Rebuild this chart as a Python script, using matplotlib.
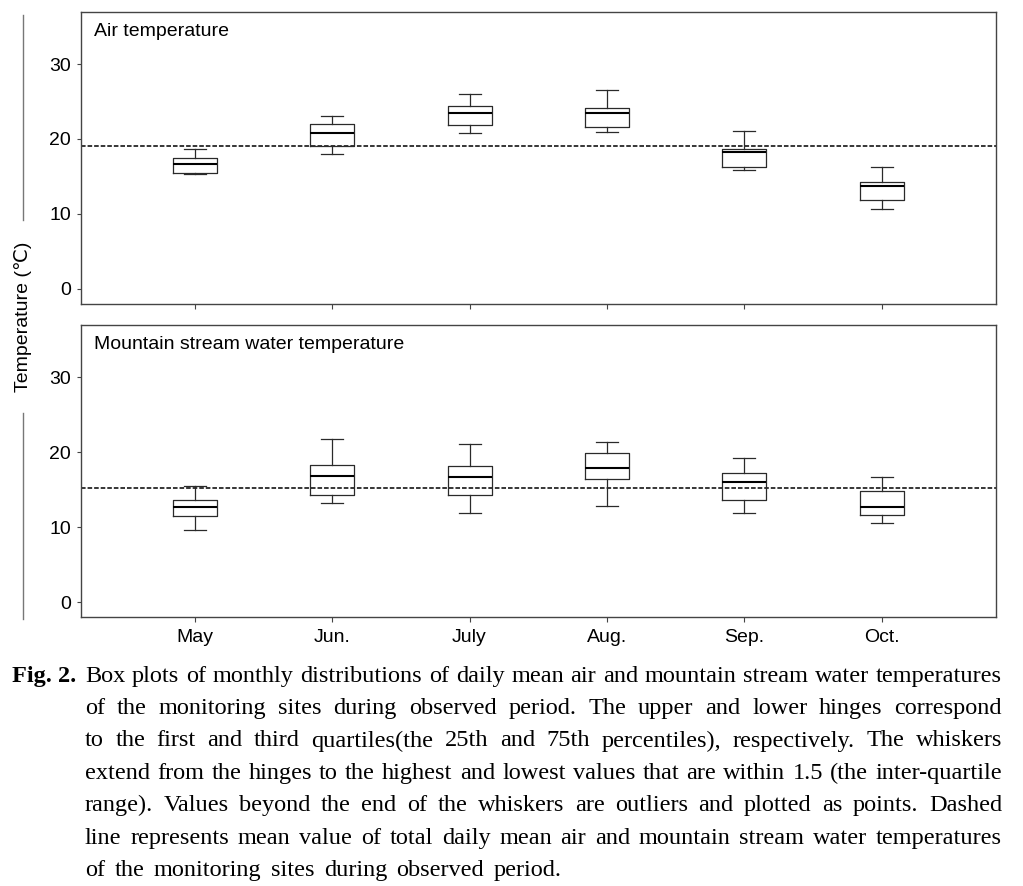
import matplotlib
matplotlib.use("Agg")
import matplotlib.pyplot as plt
from matplotlib.lines import Line2D

months = ["May", "Jun.", "July", "Aug.", "Sep.", "Oct."]

# air temperature boxes (deg C)
air_lo = [15.35, 18.0, 20.8, 20.95, 15.9, 10.7]
air_q1 = [15.5, 19.0, 21.85, 21.6, 16.25, 11.9]
air_med = [16.6, 20.85, 23.5, 23.5, 18.25, 13.75]
air_q3 = [17.4, 22.0, 24.45, 24.2, 18.7, 14.3]
air_hi = [18.7, 23.1, 26.05, 26.6, 21.0, 16.3]
air_mean = 19.1

# mountain stream water temperature boxes (deg C)
water_lo = [9.6, 13.3, 11.85, 12.9, 11.9, 10.55]
water_q1 = [11.45, 14.25, 14.35, 16.5, 13.7, 11.7]
water_med = [12.7, 16.85, 16.75, 17.95, 16.1, 12.65]
water_q3 = [13.7, 18.25, 18.1, 19.95, 17.2, 14.9]
water_hi = [15.55, 21.8, 21.1, 21.4, 19.2, 16.65]
water_mean = 15.2

panel_titles = ["Air temperature", "Mountain stream water temperature"]
ylabel = "Temperature (\u2103)"

caption_lines = [
    "Box plots of monthly distributions of daily mean air and mountain stream water temperatures",
    "of the monitoring sites during observed period. The upper and lower hinges correspond",
    "to the first and third quartiles(the 25th and 75th percentiles), respectively. The whiskers",
    "extend from the hinges to the highest and lowest values that are within 1.5 (the inter-quartile",
    "range). Values beyond the end of the whiskers are outliers and plotted as points. Dashed",
    "line represents mean value of total daily mean air and mountain stream water temperatures",
    "of the monitoring sites during observed period.",
]

W, H = 1023, 886
SANS = ["Liberation Sans", "DejaVu Sans"]
SERIF = ["Liberation Serif", "DejaVu Serif"]
EDGE = "#2a2a2a"
FS = 14

fig = plt.figure(figsize=(W / 100, H / 100), dpi=100)


def make_stats(lo, q1, med, q3, hi):
    return [dict(whislo=a, q1=b, med=c, q3=d, whishi=e, fliers=[])
            for a, b, c, d, e in zip(lo, q1, med, q3, hi)]


def draw_panel(ax, stats, mean, title, show_xlabels):
    pos = list(range(1, len(months) + 1))
    ax.bxp(stats, positions=pos, widths=0.32, showfliers=False,
           boxprops=dict(color=EDGE, linewidth=0.9),
           whiskerprops=dict(color=EDGE, linewidth=0.9),
           capprops=dict(color=EDGE, linewidth=0.9),
           medianprops=dict(color="black", linewidth=1.5),
           capwidths=0.16)
    ax.axhline(mean, color="black", linewidth=1.1, linestyle=(0, (3, 1.3)), zorder=1)
    ax.set_xlim(0.17, 6.83)
    ax.set_ylim(-2, 37)
    ax.set_yticks([0, 10, 20, 30])
    ax.set_xticks(pos)
    ax.set_xticklabels(months if show_xlabels else [])
    for t in ax.get_xticklabels() + ax.get_yticklabels():
        t.set_family(SANS)
        t.set_fontsize(FS)
    ax.tick_params(axis="y", length=3, width=0.8, color="#444", pad=4)
    ax.tick_params(axis="x", length=3.5, width=0.8, color="#444", pad=5)
    for sp in ax.spines.values():
        sp.set_color("#444")
        sp.set_linewidth(1.0)
    ax.text(0.015, 0.931, title, transform=ax.transAxes, ha="left", va="center",
            fontsize=FS, family=SANS)


ax_air = fig.add_axes([80.5 / W, 1 - 303.7 / H, 915.5 / W, 292 / H])
ax_wat = fig.add_axes([80.5 / W, 1 - 617.3 / H, 915.5 / W, 292.6 / H])

draw_panel(ax_air, make_stats(air_lo, air_q1, air_med, air_q3, air_hi),
           air_mean, panel_titles[0], False)
draw_panel(ax_wat, make_stats(water_lo, water_q1, water_med, water_q3, water_hi),
           water_mean, panel_titles[1], True)

# shared y label with bracket lines
fig.text(23 / W, 1 - 317 / H, ylabel, rotation=90, ha="center", va="center",
         fontsize=FS, family=SANS)
fig.add_artist(Line2D([23 / W, 23 / W], [1 - 15 / H, 1 - 220 / H], color="#777", lw=1))
fig.add_artist(Line2D([23 / W, 23 / W], [1 - 413 / H, 1 - 619 / H], color="#777", lw=1))

# justified caption
renderer = fig.canvas.get_renderer()
cap_size = 17.5
x_left, x_right = 85, 1002
y_base = 681.7
line_gap = 32.4

fig.text(11.7 / W, 1 - y_base / H, "Fig. 2.", fontsize=cap_size, family=SERIF,
         fontweight="bold", ha="left", va="baseline")

gaps = []
for i, line in enumerate(caption_lines):
    y = 1 - (y_base + i * line_gap) / H
    words = line.split(" ")
    texts = [fig.text(0, y, w, fontsize=cap_size, family=SERIF, ha="left", va="baseline")
             for w in words]
    widths = [t.get_window_extent(renderer).width for t in texts]
    if i == len(caption_lines) - 1:
        gap = sum(gaps) / len(gaps)   # last line is not stretched
    else:
        gap = (x_right - x_left - sum(widths)) / (len(words) - 1)
        gaps.append(gap)
    x = x_left
    for t, w in zip(texts, widths):
        t.set_x(x / W)
        x += w + gap

fig.savefig("out.png", dpi=100)
